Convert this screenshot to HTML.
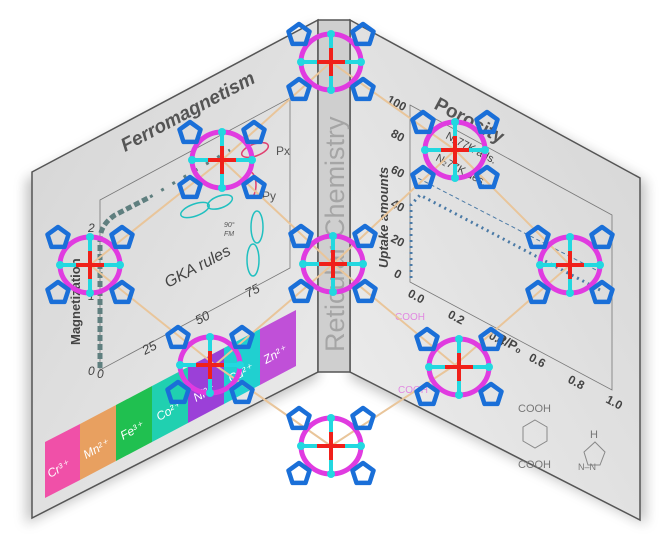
<!DOCTYPE html>
<html><head><meta charset="utf-8"><style>
html,body{margin:0;padding:0;background:#fff;}
svg{display:block;font-family:"Liberation Sans",sans-serif;}
</style></head><body>
<svg width="666" height="537" viewBox="0 0 666 537" xmlns="http://www.w3.org/2000/svg">
<defs>
<linearGradient id="lg" x1="0" y1="0" x2="1" y2="1"><stop offset="0" stop-color="#d4d4d4"/><stop offset="1" stop-color="#ececec"/></linearGradient>
<linearGradient id="rg" x1="1" y1="0" x2="0" y2="1"><stop offset="0" stop-color="#d4d4d4"/><stop offset="1" stop-color="#eeeeee"/></linearGradient>
<filter id="sh" x="-10%" y="-10%" width="120%" height="120%"><feGaussianBlur stdDeviation="6"/></filter>
<g id="pent"><polygon points="0,-11 10.5,-3.4 6.5,8.9 -6.5,8.9 -10.5,-3.4" fill="none" stroke="#1a6fd8" stroke-width="4.5" stroke-linejoin="round"/></g>
<g id="mol">
<ellipse cx="0" cy="0" rx="30" ry="28" fill="none" stroke="#e03be0" stroke-width="5"/>
<path d="M-31,0H31M0,-29V29" stroke="#22d8e0" stroke-width="4"/>
<circle cx="0" cy="-28" r="4" fill="#22d8e0"/><circle cx="0" cy="28" r="4" fill="#22d8e0"/>
<circle cx="-30" cy="0" r="4" fill="#22d8e0"/><circle cx="30" cy="0" r="4" fill="#22d8e0"/>
<path d="M-14,0H14M0,-14V14" stroke="#f0201a" stroke-width="4"/>
<use href="#pent" x="-32" y="-27"/><use href="#pent" x="32" y="-27"/>
<use href="#pent" x="-32" y="28"/><use href="#pent" x="32" y="28"/>
</g>
</defs>

<g filter="url(#sh)" opacity="0.35">
<polygon points="26,180 318,24 318,378 26,524" fill="#555"/>
<polygon points="350,24 646,182 646,524 350,378" fill="#555"/>
</g>
<polygon points="32,172 318,20 318,372 32,518" fill="url(#lg)" stroke="#555" stroke-width="1.5"/>
<polygon points="350,20 640,178 640,520 350,372" fill="url(#rg)" stroke="#555" stroke-width="1.5"/>
<polygon points="318,20 350,20 350,372 318,372" fill="#cfcfcf" stroke="#555" stroke-width="1.5"/>
<text transform="translate(344,352) rotate(-90)" font-size="27" fill="#a5a5a5">Reticular Chemistry</text>

<text transform="translate(125,152) rotate(-28)" font-size="19" font-weight="bold" font-style="italic" fill="#555">Ferromagnetism</text>
<polygon points="100,200 290,98 290,268 100,370" fill="none" stroke="#777" stroke-width="0.8"/>
<text transform="translate(80,345) rotate(-90)" font-size="13" font-weight="bold" fill="#444">Magnetization</text>
<text x="88" y="375" font-size="12" font-style="italic" fill="#444">0</text>
<text x="88" y="300" font-size="12" font-style="italic" fill="#444">1</text>
<text x="88" y="232" font-size="12" font-style="italic" fill="#444">2</text>
<text x="97" y="378" font-size="12" font-style="italic" fill="#444">0</text>
<text transform="translate(145,355) rotate(-28)" font-size="13" font-style="italic" fill="#444">25</text>
<text transform="translate(198,325) rotate(-28)" font-size="13" font-style="italic" fill="#444">50</text>
<text transform="translate(248,298) rotate(-28)" font-size="13" font-style="italic" fill="#444">75</text>
<text transform="translate(168,288) rotate(-28)" font-size="16" font-style="italic" fill="#444">GKA rules</text>
<path d="M100,368V240Q100,225 115,215L150,197" fill="none" stroke="#5f7f7f" stroke-width="5" stroke-dasharray="6,3"/>
<path d="M150,197L230,150" stroke="#5f7f7f" stroke-width="3" stroke-dasharray="3,10"/>
<g fill="none" stroke-width="1.5">
<ellipse cx="255" cy="150" rx="14" ry="6" transform="rotate(-20 255 150)" stroke="#e04070"/>
<ellipse cx="250" cy="185" rx="6" ry="13" stroke="#e04070"/>
<ellipse cx="195" cy="210" rx="15" ry="6" transform="rotate(-20 195 210)" stroke="#20c0c0"/>
<ellipse cx="220" cy="202" rx="13" ry="6" transform="rotate(-20 220 202)" stroke="#20c0c0"/>
<ellipse cx="257" cy="227" rx="6" ry="16" stroke="#20c0c0"/>
<ellipse cx="253" cy="260" rx="6" ry="16" stroke="#20c0c0"/>
</g>
<text x="276" y="155" font-size="12" fill="#555">Px</text>
<text x="262" y="200" font-size="12" fill="#555">Py</text>
<text x="224" y="227" font-size="7" fill="#555" font-style="italic">90°</text>
<text x="224" y="236" font-size="7" fill="#555" font-style="italic">FM</text>

<g font-size="12" fill="#fff" font-style="italic">
<polygon points="45,442 80,424 80,480 45,498" fill="#f050a8"/>
<polygon points="80,424 116,405 116,461 80,480" fill="#e8a060"/>
<polygon points="116,405 152,386 152,442 116,461" fill="#20c050"/>
<polygon points="152,386 188,367 188,423 152,442" fill="#20d0b0"/>
<polygon points="188,367 224,348 224,404 188,423" fill="#9b40d8"/>
<polygon points="224,348 260,329 260,385 224,404" fill="#20d0d0"/>
<polygon points="260,329 296,310 296,366 260,385" fill="#c050d8"/>
<text transform="translate(50,478) rotate(-28)">Cr³⁺</text>
<text transform="translate(86,459) rotate(-28)">Mn²⁺</text>
<text transform="translate(123,440) rotate(-28)">Fe³⁺</text>
<text transform="translate(159,421) rotate(-28)">Co²⁺</text>
<text transform="translate(196,402) rotate(-28)">Ni²⁺</text>
<text transform="translate(231,383) rotate(-28)">Cu²⁺</text>
<text transform="translate(266,364) rotate(-28)">Zn²⁺</text>
</g>

<text transform="translate(433,108) rotate(28)" font-size="19" font-weight="bold" fill="#555">Porosity</text>
<polygon points="410,105 612,215 612,390 410,282" fill="none" stroke="#777" stroke-width="0.8"/>
<text transform="translate(388,268) rotate(-90)" font-size="13" font-weight="bold" font-style="italic" fill="#444">Uptake amounts</text>
<g font-size="12" font-weight="bold" fill="#444">
<text transform="translate(386,102) rotate(28)">100</text>
<text transform="translate(390,136) rotate(28)">80</text>
<text transform="translate(390,172) rotate(28)">60</text>
<text transform="translate(390,206) rotate(28)">40</text>
<text transform="translate(390,241) rotate(28)">20</text>
<text transform="translate(393,276) rotate(28)">0</text>
<text transform="translate(407,296) rotate(28)">0.0</text>
<text transform="translate(447,317) rotate(28)">0.2</text>
<text transform="translate(488,338) rotate(28)">0.4</text>
<text transform="translate(528,360) rotate(28)">0.6</text>
<text transform="translate(567,382) rotate(28)">0.8</text>
<text transform="translate(605,402) rotate(28)">1.0</text>
<text transform="translate(496,341) rotate(28)" font-size="13">P/P₀</text>
</g>
<text transform="translate(445,138) rotate(28)" font-size="11" fill="#444">N₂77K ads.</text>
<text transform="translate(435,160) rotate(28)" font-size="11" fill="#444">N₂77K des.</text>
<path d="M411,278V205L420,195L600,290" fill="none" stroke="#4b7aa6" stroke-width="3" stroke-dasharray="2,4"/>
<path d="M412,175L600,272" fill="none" stroke="#4b7aa6" stroke-width="1" stroke-dasharray="4,3"/>
<g font-size="11" fill="#777">
<text x="518" y="412">COOH</text>
<text x="518" y="468">COOH</text>
<polygon points="535,420 547,427 547,441 535,448 523,441 523,427" fill="none" stroke="#888"/>
<text x="590" y="438">H</text>
<polygon points="595,442 605,452 600,465 588,465 584,452" fill="none" stroke="#888"/>
<text x="578" y="470" font-size="9">N–N</text>
</g>
<g font-size="10" fill="#e070e0" opacity="0.8"><text x="395" y="320">COOH</text><text x="398" y="393">COOH</text></g>

<g stroke="#e9c59a" stroke-width="2">
<line x1="331" y1="62" x2="222" y2="160"/><line x1="222" y1="160" x2="90" y2="265"/>
<line x1="455" y1="150" x2="333" y2="264"/><line x1="333" y1="264" x2="215" y2="365"/>
<line x1="570" y1="265" x2="455" y2="365"/><line x1="455" y1="365" x2="331" y2="446"/>
<line x1="331" y1="62" x2="455" y2="150"/><line x1="455" y1="150" x2="570" y2="265"/>
<line x1="222" y1="160" x2="333" y2="264"/><line x1="333" y1="264" x2="455" y2="365"/>
<line x1="90" y1="265" x2="215" y2="365"/><line x1="215" y1="365" x2="331" y2="446"/>
</g>
<use href="#mol" x="331" y="62"/>
<use href="#mol" x="222" y="160"/>
<use href="#mol" x="455" y="150"/>
<use href="#mol" x="90" y="265"/>
<use href="#mol" x="333" y="264"/>
<use href="#mol" x="570" y="265"/>
<use href="#mol" x="210" y="365"/>
<use href="#mol" x="459" y="367"/>
<use href="#mol" x="331" y="446"/>
</svg>
</body></html>
